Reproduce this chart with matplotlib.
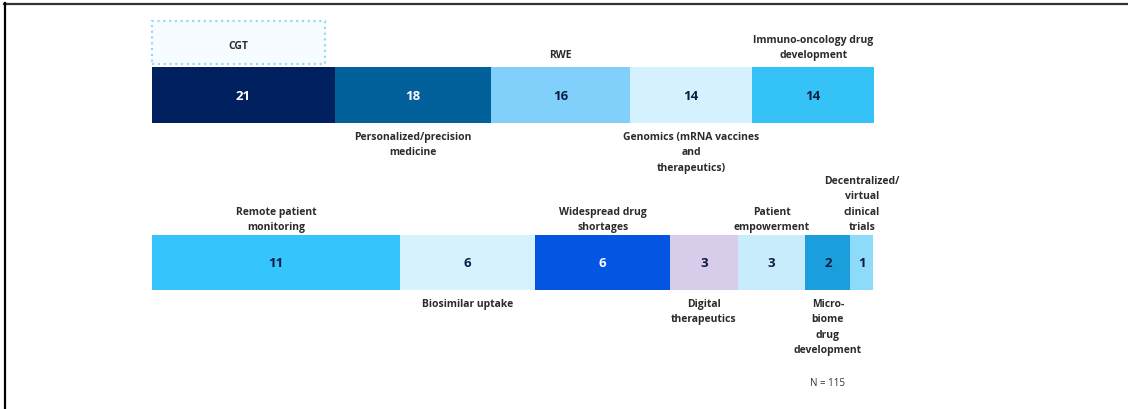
import matplotlib
matplotlib.use("Agg")
from matplotlib import pyplot as plt
from matplotlib.patches import Rectangle
from matplotlib.lines import Line2D
import matplotlib.transforms as mtransforms

plt.rcParams['font.family'] = ['Open Sans', 'DejaVu Sans']

# top row: emerging trends
top_labels = ["CGT", "Personalized/precision\nmedicine", "RWE",
              "Genomics (mRNA vaccines\nand\ntherapeutics)",
              "Immuno-oncology drug\ndevelopment"]
top_values = [21, 18, 16, 14, 14]
top_colors = ["#002060", "#02609a", "#80d0fb", "#d4f1fd", "#35c2f7"]
top_sides = ["box", "below", "above", "below", "above"]

# bottom row
bot_labels = ["Remote patient\nmonitoring", "Biosimilar uptake",
              "Widespread drug\nshortages", "Digital\ntherapeutics",
              "Patient\nempowerment", "Micro-\nbiome\ndrug\ndevelopment",
              "Decentralized/\nvirtual\nclinical\ntrials"]
bot_values = [11, 6, 6, 3, 3, 2, 1]
bot_colors = ["#35c4fb", "#d6f2fd", "#0456e2", "#d7cdea", "#c9ecfc",
              "#1a9fdc", "#8ddafa"]
bot_sides = ["above", "below", "above", "below", "above", "below", "above"]

n_total = 115

W, H = 1128, 410
fig = plt.figure(figsize=(W / 100, H / 100), dpi=100)
fig.patch.set_facecolor("white")

NAVY = "#0b1d45"
LABEL = "#2b2b2b"
FS = 7.5


def px_axes(x0, y0, w, h):
    # axes placed in pixel units, measured from the top-left corner
    return fig.add_axes([x0 / W, 1 - (y0 + h) / H, w / W, h / H])


def draw_row(ax, values, colors, labels, sides, gap_above, gap_below):
    left = 0
    for v, c, lab, side in zip(values, colors, labels, sides):
        ax.barh(0, v, left=left, height=1, color=c, edgecolor="none")
        mid = left + v / 2
        tc = "white" if c in ("#002060", "#02609a", "#0456e2") else NAVY
        ax.text(mid, 0, str(v), ha="center", va="center", color=tc,
                fontsize=9.5, fontweight="bold")
        if side == "above":
            ax.annotate(lab, (mid, 1), xycoords=("data", "axes fraction"),
                        xytext=(0, gap_above), textcoords="offset pixels",
                        ha="center", va="bottom", fontsize=FS,
                        fontweight="bold", color=LABEL, linespacing=1.55)
        elif side == "below":
            ax.annotate(lab, (mid, 0), xycoords=("data", "axes fraction"),
                        xytext=(0, -gap_below), textcoords="offset pixels",
                        ha="center", va="top", fontsize=FS,
                        fontweight="bold", color=LABEL, linespacing=1.55)
        left += v
    ax.set_xlim(0, sum(values))
    ax.set_ylim(-0.5, 0.5)
    ax.axis("off")


ax_top = px_axes(152, 68, 722, 56)
draw_row(ax_top, top_values, top_colors, top_labels, top_sides, 7, 8)

# dotted box holding the first top-row label
trans = mtransforms.blended_transform_factory(ax_top.transData, ax_top.transAxes)
box_w = top_values[0] * 0.945
ax_top.add_patch(Rectangle((0, 1.055), box_w, 0.77, transform=trans,
                           facecolor="#f6fcff", edgecolor="#9ad9f0",
                           linestyle=(0, (1, 1.6)), linewidth=1.6,
                           clip_on=False))
ax_top.text(box_w / 2, 1.39, top_labels[0], transform=trans, ha="center",
            va="center", fontsize=FS, fontweight="bold", color=LABEL)

ax_bot = px_axes(152, 236, 721, 55)
draw_row(ax_bot, bot_values, bot_colors, bot_labels, bot_sides, 3, 8)

# sample size note under the small segments
n_x = sum(bot_values[:5]) + bot_values[5] / 2
ax_bot.annotate(f"N = {n_total}", (n_x, 0), xycoords=("data", "axes fraction"),
                xytext=(0, -93), textcoords="offset pixels", ha="center",
                va="center", fontsize=7, color="#333333")

# frame lines along the top and left edges
fig.add_artist(Line2D([4 / W, 1], [1 - 5 / H, 1 - 5 / H], color="#333333",
                      linewidth=1.6, transform=fig.transFigure))
fig.add_artist(Line2D([5 / W, 5 / W], [0, 1 - 4 / H], color="black",
                      linewidth=1.6, transform=fig.transFigure))

fig.savefig("out.png", dpi=100, facecolor="white")
